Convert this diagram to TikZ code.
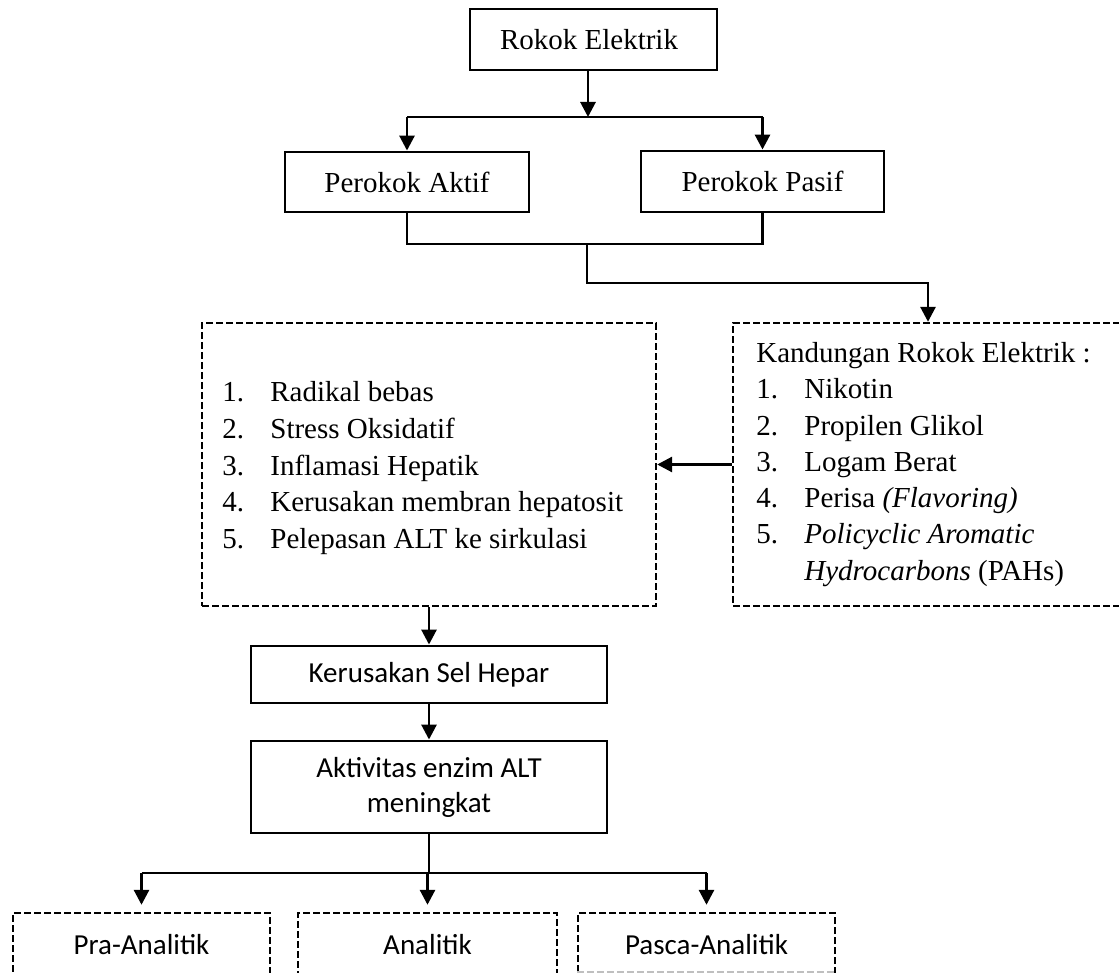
\documentclass[tikz,border=0pt]{standalone}
\usepackage{fontspec}
\setmainfont{Liberation Serif}
\newfontfamily\calfont{Carlito}
\usetikzlibrary{arrows.meta}
\newcommand{\tsz}{\fontsize{14.5}{17.5}\selectfont}
\tikzset{
  box/.style={draw, line width=1.45pt, inner sep=0pt, font=\tsz},
  cbox/.style={draw, line width=1.45pt, inner sep=0pt, font=\calfont\tsz, align=center},
  dbox/.style={draw, line width=1.2pt, dash pattern=on 3.5pt off 1.5pt, inner sep=0pt},
  lst/.style={anchor=base west, inner sep=0pt, font=\tsz},
  ctxt/.style={inner sep=0pt, font=\calfont\tsz},
  conn/.style={line width=1.45pt},
  arr/.style={line width=1.45pt, -{Triangle[length=7.5pt,width=7.5pt]}},
}
\newcommand{\num}[2]{\makebox[24pt][l]{#1}#2}
\begin{document}
\begin{tikzpicture}[x=0.5pt, y=-0.5pt]
\useasboundingbox (0,0) rectangle (1119,973);

% top boxes
\node[box, minimum width=123.5pt, minimum height=30.5pt] (rokok) at (593.5,39.5) {};
\node[inner sep=0pt, font=\tsz] (rokokT) at (589,39.5) {Rokok Elektrik};
\node[box, minimum width=122pt, minimum height=30pt] (aktif) at (407,182) {Perokok Aktif};
\node[box, minimum width=121.5pt, minimum height=30.5pt] (pasif) at (762.5,181.5) {Perokok Pasif};

% dashed list boxes
\node[dbox, minimum width=227pt, minimum height=141.5pt] (proc) at (429,464.5) {};
\node[dbox, minimum width=203.5pt, minimum height=141.5pt] (kand) at (936.5,464.5) {};

\node[lst] (p1) at (222,401) {\num{1.}{Radikal bebas}};
\node[lst] (p2) at (222,438) {\num{2.}{Stress Oksidatif}};
\node[lst] (p3) at (222,475) {\num{3.}{Inflamasi Hepatik}};
\node[lst] (p4) at (222,511) {\num{4.}{Kerusakan membran hepatosit}};
\node[lst] (p5) at (222,548) {\num{5.}{Pelepasan ALT ke sirkulasi}};

\node[lst] (k0) at (756,362) {Kandungan Rokok Elektrik :};
\node[lst] (k1) at (756,398) {\num{1.}{Nikotin}};
\node[lst] (k2) at (756,435) {\num{2.}{Propilen Glikol}};
\node[lst] (k3) at (756,471) {\num{3.}{Logam Berat}};
\node[lst] (k4) at (756,507) {\num{4.}{Perisa \textit{(Flavoring)}}};
\node[lst] (k5) at (756,543) {\num{5.}{\textit{Policyclic Aromatic}}};
\node[lst] (k6) at (756,580) {\num{}{\textit{Hydrocarbons} (PAHs)}};

% lower boxes
\node[cbox, minimum width=178pt, minimum height=28.5pt] (sel) at (429,674.5) {Kerusakan Sel Hepar};
\node[cbox, minimum width=178pt, minimum height=46pt] (aktv) at (429,787) {Aktivitas enzim ALT\\meningkat};

\node[dbox, minimum width=128.5pt, minimum height=32pt] (pra) at (141.5,945) {};
\node[dbox, minimum width=129.5pt, minimum height=32pt] (ana) at (427.5,945) {};
\node[dbox, minimum width=128.5pt, minimum height=32pt] (pasca) at (706.5,945) {};
\draw[black!25, line width=1pt, dash pattern=on 3.5pt off 1.5pt]
  ([yshift=3pt]pasca.south west) -- ([yshift=3pt]pasca.south east);
\node[ctxt] (praT) at (141.5,945) {Pra-Analitik};
\node[ctxt] (anaT) at (427.5,945) {Analitik};
\node[ctxt] (pascaT) at (706.5,945) {Pasca-Analitik};

% connectors
\coordinate (s1) at (588,117);
\draw[arr] (rokok.south -| s1) -- (s1);
\draw[conn] (aktif.north |- s1) -- (pasif.north |- s1);
\draw[arr] (aktif.north |- s1) -- (aktif.north);
\draw[arr] (pasif.north |- s1) -- (pasif.north);

\coordinate (j1) at (587,244);
\coordinate (j2) at (928,283);
\draw[conn] (aktif.south) |- (j1) -| (pasif.south);
\draw[arr] (j1) |- (j2) -- (j2 |- kand.north);

\draw[arr] (kand.west) -- (proc.east);
\draw[arr] (proc.south -| sel.north) -- (sel.north);
\draw[arr] (sel.south) -- (aktv.north);

\coordinate (b) at (429,873);
\draw[conn] (aktv.south) -- (b);
\draw[conn] (pra.north |- b) -- (pasca.north |- b);
\draw[arr, shorten >=3.5pt] (pra.north |- b) -- (pra.north);
\draw[arr, shorten >=3.5pt] (ana.north |- b) -- (ana.north);
\draw[arr, shorten >=3.5pt] (pasca.north |- b) -- (pasca.north);
\end{tikzpicture}
\end{document}
